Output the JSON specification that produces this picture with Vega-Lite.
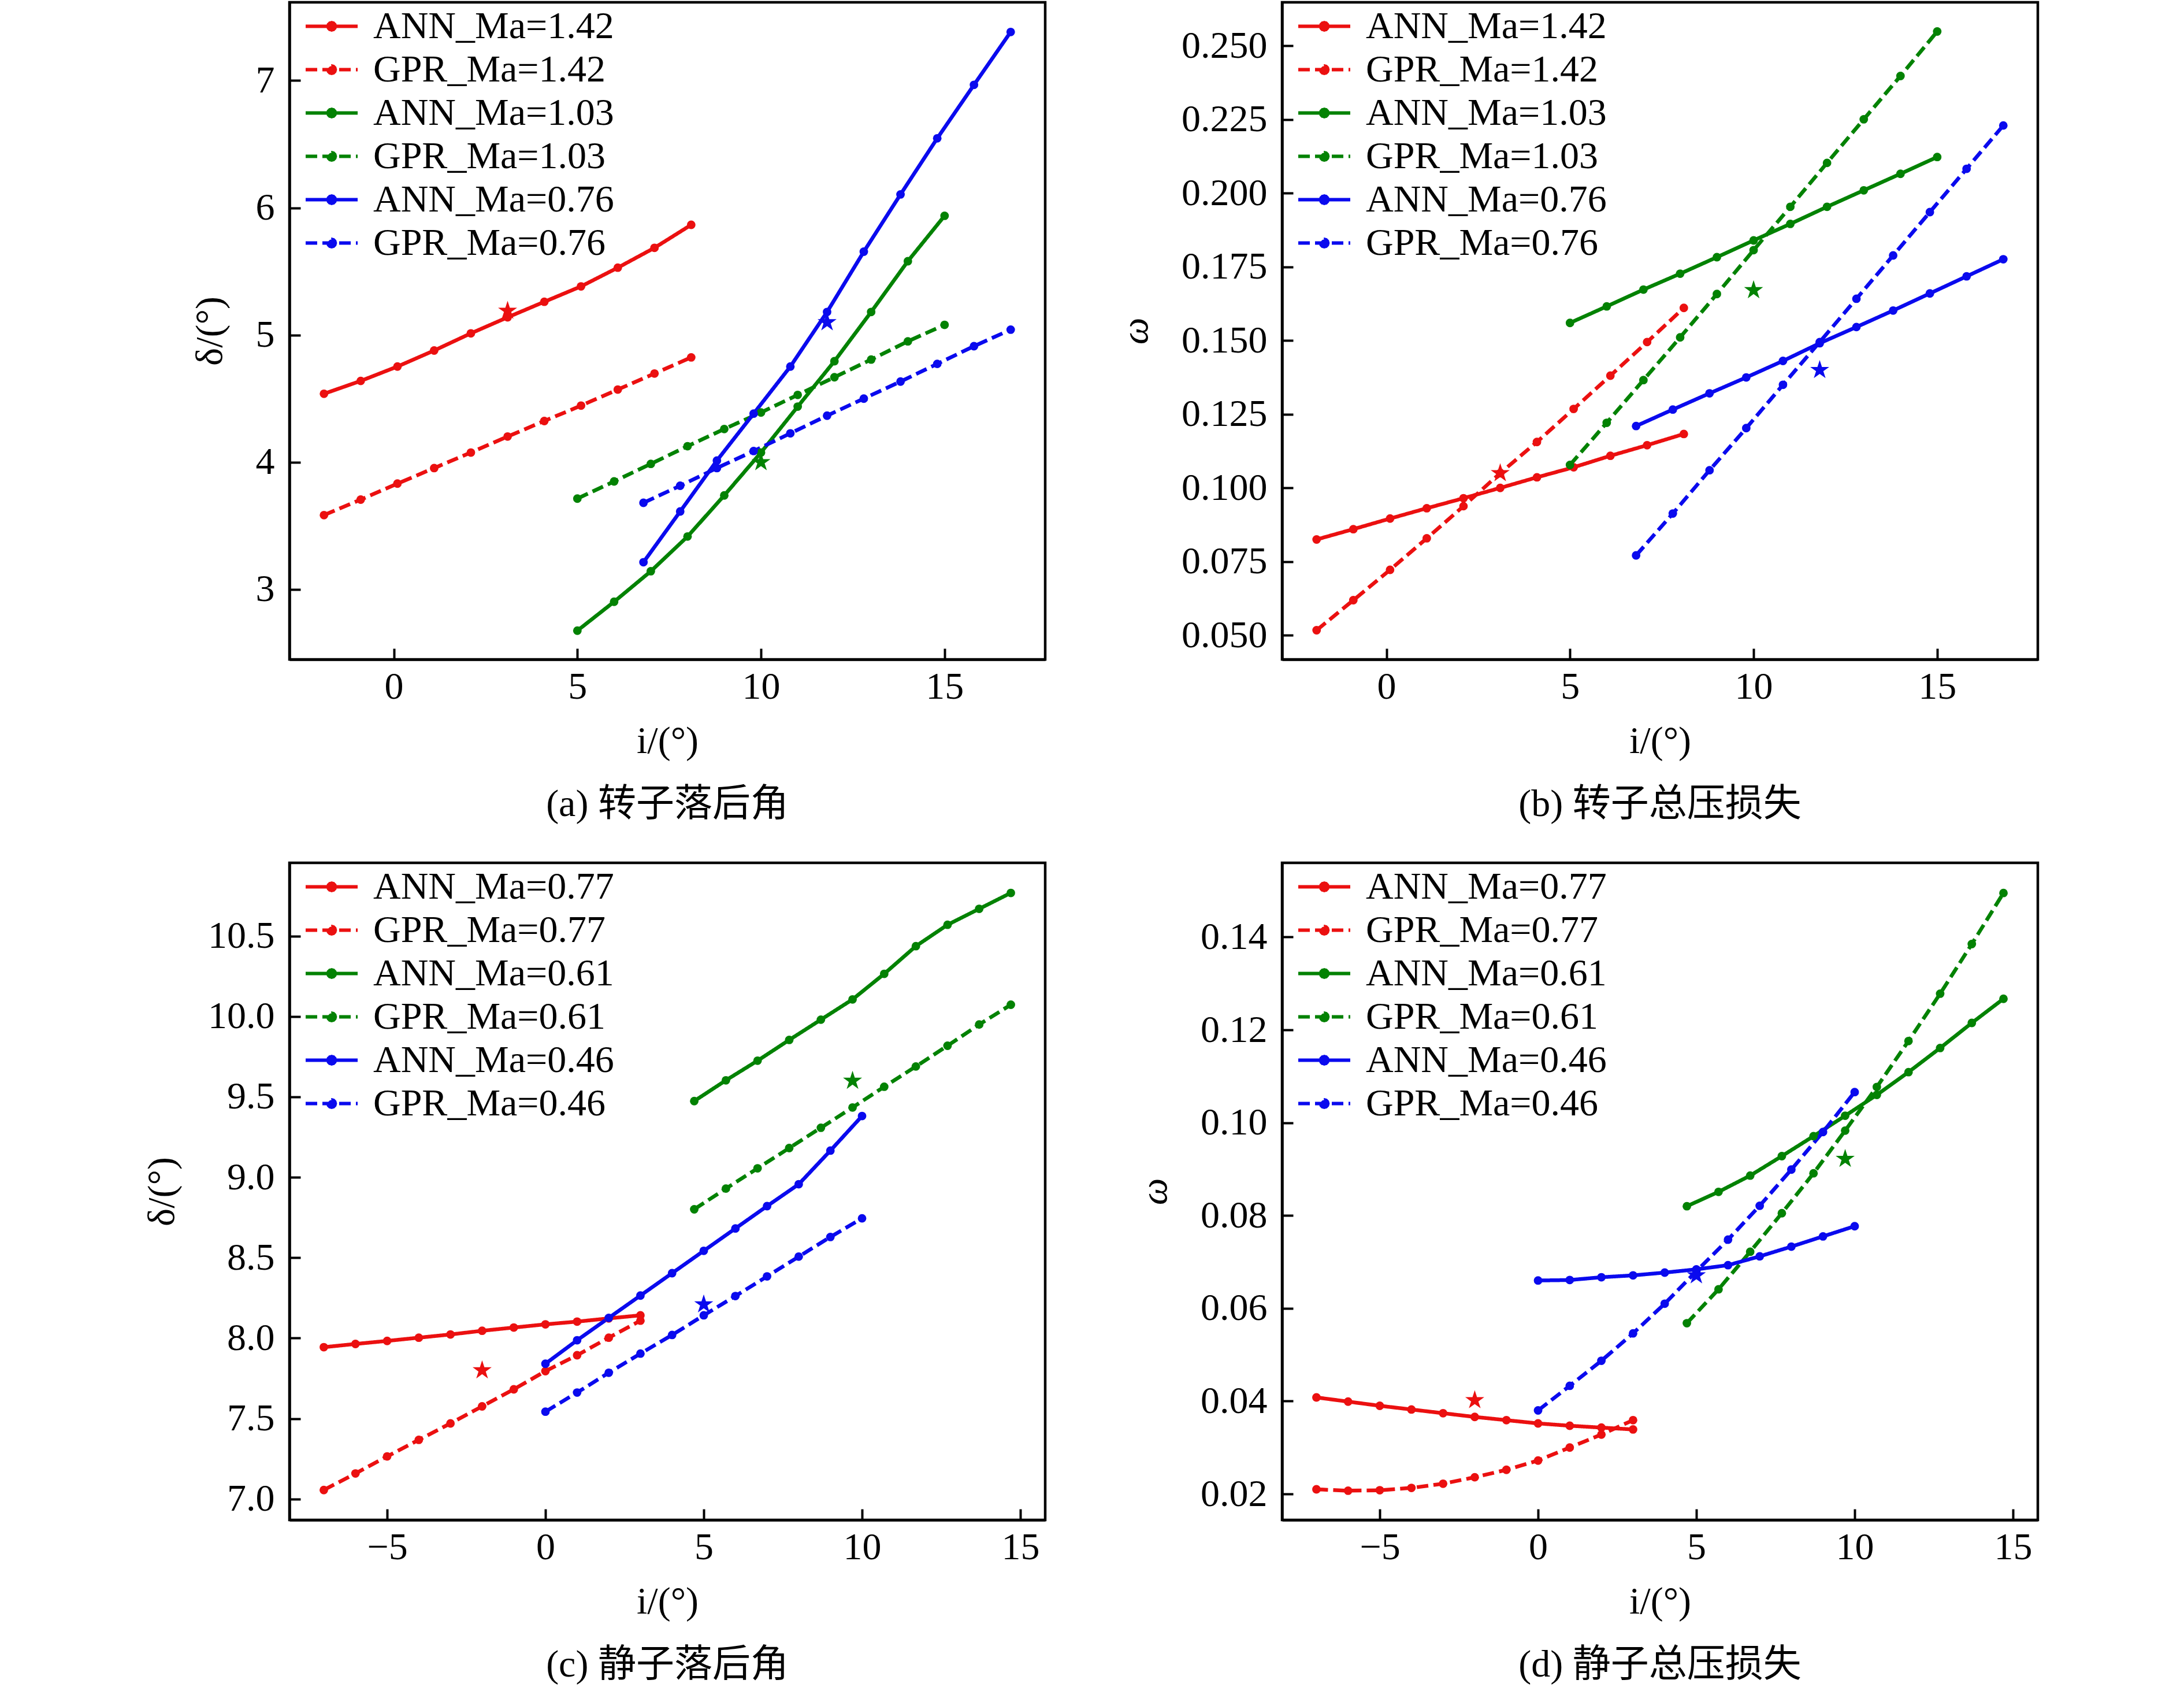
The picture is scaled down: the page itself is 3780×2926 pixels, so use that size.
{
"$schema":"https://vega.github.io/schema/vega-lite/v6.json",
"background":"white",
"padding":{"left":245,"top":1,"right":5,"bottom":5},
"datasets":{
"pa":[
{"s":"ANN_Ma=1.42","i":-1.9,"v":4.538},{"s":"ANN_Ma=1.42","i":-0.9,"v":4.639},{"s":"ANN_Ma=1.42","i":0.1,"v":4.752},{"s":"ANN_Ma=1.42","i":1.1,"v":4.878},{"s":"ANN_Ma=1.42","i":2.1,"v":5.013},{"s":"ANN_Ma=1.42","i":3.1,"v":5.139},{"s":"ANN_Ma=1.42","i":4.1,"v":5.261},{"s":"ANN_Ma=1.42","i":5.1,"v":5.382},{"s":"ANN_Ma=1.42","i":6.1,"v":5.529},{"s":"ANN_Ma=1.42","i":7.1,"v":5.685},{"s":"ANN_Ma=1.42","i":8.1,"v":5.866},
{"s":"GPR_Ma=1.42","i":-1.9,"v":3.584},{"s":"GPR_Ma=1.42","i":-0.9,"v":3.706},{"s":"GPR_Ma=1.42","i":0.1,"v":3.832},{"s":"GPR_Ma=1.42","i":1.1,"v":3.954},{"s":"GPR_Ma=1.42","i":2.1,"v":4.076},{"s":"GPR_Ma=1.42","i":3.1,"v":4.202},{"s":"GPR_Ma=1.42","i":4.1,"v":4.324},{"s":"GPR_Ma=1.42","i":5.1,"v":4.445},{"s":"GPR_Ma=1.42","i":6.1,"v":4.571},{"s":"GPR_Ma=1.42","i":7.1,"v":4.697},{"s":"GPR_Ma=1.42","i":8.1,"v":4.824},
{"s":"ANN_Ma=1.03","i":5,"v":2.676},{"s":"ANN_Ma=1.03","i":6,"v":2.903},{"s":"ANN_Ma=1.03","i":7,"v":3.143},{"s":"ANN_Ma=1.03","i":8,"v":3.416},{"s":"ANN_Ma=1.03","i":9,"v":3.739},{"s":"ANN_Ma=1.03","i":10,"v":4.076},{"s":"ANN_Ma=1.03","i":11,"v":4.437},{"s":"ANN_Ma=1.03","i":12,"v":4.794},{"s":"ANN_Ma=1.03","i":13,"v":5.181},{"s":"ANN_Ma=1.03","i":14,"v":5.58},{"s":"ANN_Ma=1.03","i":15,"v":5.937},
{"s":"GPR_Ma=1.03","i":5,"v":3.714},{"s":"GPR_Ma=1.03","i":6,"v":3.849},{"s":"GPR_Ma=1.03","i":7,"v":3.987},{"s":"GPR_Ma=1.03","i":8,"v":4.126},{"s":"GPR_Ma=1.03","i":9,"v":4.261},{"s":"GPR_Ma=1.03","i":10,"v":4.391},{"s":"GPR_Ma=1.03","i":11,"v":4.529},{"s":"GPR_Ma=1.03","i":12,"v":4.668},{"s":"GPR_Ma=1.03","i":13,"v":4.807},{"s":"GPR_Ma=1.03","i":14,"v":4.95},{"s":"GPR_Ma=1.03","i":15,"v":5.08},
{"s":"ANN_Ma=0.76","i":6.8,"v":3.214},{"s":"ANN_Ma=0.76","i":7.8,"v":3.613},{"s":"ANN_Ma=0.76","i":8.8,"v":4.013},{"s":"ANN_Ma=0.76","i":9.8,"v":4.382},{"s":"ANN_Ma=0.76","i":10.8,"v":4.752},{"s":"ANN_Ma=0.76","i":11.8,"v":5.181},{"s":"ANN_Ma=0.76","i":12.8,"v":5.655},{"s":"ANN_Ma=0.76","i":13.8,"v":6.105},{"s":"ANN_Ma=0.76","i":14.8,"v":6.546},{"s":"ANN_Ma=0.76","i":15.8,"v":6.966},{"s":"ANN_Ma=0.76","i":16.8,"v":7.382},
{"s":"GPR_Ma=0.76","i":6.8,"v":3.681},{"s":"GPR_Ma=0.76","i":7.8,"v":3.815},{"s":"GPR_Ma=0.76","i":8.8,"v":3.954},{"s":"GPR_Ma=0.76","i":9.8,"v":4.088},{"s":"GPR_Ma=0.76","i":10.8,"v":4.227},{"s":"GPR_Ma=0.76","i":11.8,"v":4.366},{"s":"GPR_Ma=0.76","i":12.8,"v":4.5},{"s":"GPR_Ma=0.76","i":13.8,"v":4.634},{"s":"GPR_Ma=0.76","i":14.8,"v":4.773},{"s":"GPR_Ma=0.76","i":15.8,"v":4.912},{"s":"GPR_Ma=0.76","i":16.8,"v":5.042}
],
"pa_exp":[{"Ma":"1.42","i":3.1,"v":5.19},{"Ma":"1.03","i":10.0,"v":4.0},{"Ma":"0.76","i":11.8,"v":5.1}],
"pb":[
{"s":"ANN_Ma=1.42","i":-1.9,"v":0.0825},{"s":"ANN_Ma=1.42","i":-0.9,"v":0.086},{"s":"ANN_Ma=1.42","i":0.1,"v":0.0896},{"s":"ANN_Ma=1.42","i":1.1,"v":0.0931},{"s":"ANN_Ma=1.42","i":2.1,"v":0.0965},{"s":"ANN_Ma=1.42","i":3.1,"v":0.1},{"s":"ANN_Ma=1.42","i":4.1,"v":0.1036},{"s":"ANN_Ma=1.42","i":5.1,"v":0.107},{"s":"ANN_Ma=1.42","i":6.1,"v":0.1109},{"s":"ANN_Ma=1.42","i":7.1,"v":0.1145},{"s":"ANN_Ma=1.42","i":8.1,"v":0.1183},
{"s":"GPR_Ma=1.42","i":-1.9,"v":0.0517},{"s":"GPR_Ma=1.42","i":-0.9,"v":0.0619},{"s":"GPR_Ma=1.42","i":0.1,"v":0.0722},{"s":"GPR_Ma=1.42","i":1.1,"v":0.0829},{"s":"GPR_Ma=1.42","i":2.1,"v":0.0938},{"s":"GPR_Ma=1.42","i":3.1,"v":0.105},{"s":"GPR_Ma=1.42","i":4.1,"v":0.1156},{"s":"GPR_Ma=1.42","i":5.1,"v":0.1268},{"s":"GPR_Ma=1.42","i":6.1,"v":0.1381},{"s":"GPR_Ma=1.42","i":7.1,"v":0.1495},{"s":"GPR_Ma=1.42","i":8.1,"v":0.1611},
{"s":"ANN_Ma=1.03","i":5,"v":0.156},{"s":"ANN_Ma=1.03","i":6,"v":0.1616},{"s":"ANN_Ma=1.03","i":7,"v":0.1673},{"s":"ANN_Ma=1.03","i":8,"v":0.1727},{"s":"ANN_Ma=1.03","i":9,"v":0.1783},{"s":"ANN_Ma=1.03","i":10,"v":0.184},{"s":"ANN_Ma=1.03","i":11,"v":0.1896},{"s":"ANN_Ma=1.03","i":12,"v":0.1954},{"s":"ANN_Ma=1.03","i":13,"v":0.201},{"s":"ANN_Ma=1.03","i":14,"v":0.2066},{"s":"ANN_Ma=1.03","i":15,"v":0.2123},
{"s":"GPR_Ma=1.03","i":5,"v":0.1078},{"s":"GPR_Ma=1.03","i":6,"v":0.1221},{"s":"GPR_Ma=1.03","i":7,"v":0.1366},{"s":"GPR_Ma=1.03","i":8,"v":0.1511},{"s":"GPR_Ma=1.03","i":9,"v":0.1658},{"s":"GPR_Ma=1.03","i":10,"v":0.1807},{"s":"GPR_Ma=1.03","i":11,"v":0.1954},{"s":"GPR_Ma=1.03","i":12,"v":0.2103},{"s":"GPR_Ma=1.03","i":13,"v":0.2251},{"s":"GPR_Ma=1.03","i":14,"v":0.2398},{"s":"GPR_Ma=1.03","i":15,"v":0.2549},
{"s":"ANN_Ma=0.76","i":6.8,"v":0.121},{"s":"ANN_Ma=0.76","i":7.8,"v":0.1266},{"s":"ANN_Ma=0.76","i":8.8,"v":0.1321},{"s":"ANN_Ma=0.76","i":9.8,"v":0.1375},{"s":"ANN_Ma=0.76","i":10.8,"v":0.1431},{"s":"ANN_Ma=0.76","i":11.8,"v":0.1491},{"s":"ANN_Ma=0.76","i":12.8,"v":0.1546},{"s":"ANN_Ma=0.76","i":13.8,"v":0.1602},{"s":"ANN_Ma=0.76","i":14.8,"v":0.166},{"s":"ANN_Ma=0.76","i":15.8,"v":0.1718},{"s":"ANN_Ma=0.76","i":16.8,"v":0.1776},
{"s":"GPR_Ma=0.76","i":6.8,"v":0.0771},{"s":"GPR_Ma=0.76","i":7.8,"v":0.0913},{"s":"GPR_Ma=0.76","i":8.8,"v":0.106},{"s":"GPR_Ma=0.76","i":9.8,"v":0.1203},{"s":"GPR_Ma=0.76","i":10.8,"v":0.135},{"s":"GPR_Ma=0.76","i":11.8,"v":0.1495},{"s":"GPR_Ma=0.76","i":12.8,"v":0.1642},{"s":"GPR_Ma=0.76","i":13.8,"v":0.1789},{"s":"GPR_Ma=0.76","i":14.8,"v":0.1936},{"s":"GPR_Ma=0.76","i":15.8,"v":0.2083},{"s":"GPR_Ma=0.76","i":16.8,"v":0.223}
],
"pb_exp":[{"Ma":"1.42","i":3.1,"v":0.105},{"Ma":"1.03","i":10.0,"v":0.1671},{"Ma":"0.76","i":11.8,"v":0.14}],
"pc":[
{"s":"ANN_Ma=0.77","i":-7,"v":7.944},{"s":"ANN_Ma=0.77","i":-6,"v":7.964},{"s":"ANN_Ma=0.77","i":-5,"v":7.983},{"s":"ANN_Ma=0.77","i":-4,"v":8.003},{"s":"ANN_Ma=0.77","i":-3,"v":8.023},{"s":"ANN_Ma=0.77","i":-2,"v":8.046},{"s":"ANN_Ma=0.77","i":-1,"v":8.066},{"s":"ANN_Ma=0.77","i":0,"v":8.086},{"s":"ANN_Ma=0.77","i":1,"v":8.103},{"s":"ANN_Ma=0.77","i":2,"v":8.123},{"s":"ANN_Ma=0.77","i":3,"v":8.142},
{"s":"GPR_Ma=0.77","i":-7,"v":7.056},{"s":"GPR_Ma=0.77","i":-6,"v":7.159},{"s":"GPR_Ma=0.77","i":-5,"v":7.265},{"s":"GPR_Ma=0.77","i":-4,"v":7.368},{"s":"GPR_Ma=0.77","i":-3,"v":7.47},{"s":"GPR_Ma=0.77","i":-2,"v":7.576},{"s":"GPR_Ma=0.77","i":-1,"v":7.682},{"s":"GPR_Ma=0.77","i":0,"v":7.795},{"s":"GPR_Ma=0.77","i":1,"v":7.894},{"s":"GPR_Ma=0.77","i":2,"v":8.003},{"s":"GPR_Ma=0.77","i":3,"v":8.109},
{"s":"ANN_Ma=0.61","i":4.7,"v":9.474},{"s":"ANN_Ma=0.61","i":5.7,"v":9.603},{"s":"ANN_Ma=0.61","i":6.7,"v":9.725},{"s":"ANN_Ma=0.61","i":7.7,"v":9.854},{"s":"ANN_Ma=0.61","i":8.7,"v":9.98},{"s":"ANN_Ma=0.61","i":9.7,"v":10.106},{"s":"ANN_Ma=0.61","i":10.7,"v":10.265},{"s":"ANN_Ma=0.61","i":11.7,"v":10.437},{"s":"ANN_Ma=0.61","i":12.7,"v":10.57},{"s":"ANN_Ma=0.61","i":13.7,"v":10.669},{"s":"ANN_Ma=0.61","i":14.7,"v":10.768},
{"s":"GPR_Ma=0.61","i":4.7,"v":8.801},{"s":"GPR_Ma=0.61","i":5.7,"v":8.93},{"s":"GPR_Ma=0.61","i":6.7,"v":9.056},{"s":"GPR_Ma=0.61","i":7.7,"v":9.182},{"s":"GPR_Ma=0.61","i":8.7,"v":9.308},{"s":"GPR_Ma=0.61","i":9.7,"v":9.434},{"s":"GPR_Ma=0.61","i":10.7,"v":9.563},{"s":"GPR_Ma=0.61","i":11.7,"v":9.689},{"s":"GPR_Ma=0.61","i":12.7,"v":9.818},{"s":"GPR_Ma=0.61","i":13.7,"v":9.95},{"s":"GPR_Ma=0.61","i":14.7,"v":10.073},
{"s":"ANN_Ma=0.46","i":0,"v":7.841},{"s":"ANN_Ma=0.46","i":1,"v":7.987},{"s":"ANN_Ma=0.46","i":2,"v":8.126},{"s":"ANN_Ma=0.46","i":3,"v":8.265},{"s":"ANN_Ma=0.46","i":4,"v":8.404},{"s":"ANN_Ma=0.46","i":5,"v":8.543},{"s":"ANN_Ma=0.46","i":6,"v":8.682},{"s":"ANN_Ma=0.46","i":7,"v":8.821},{"s":"ANN_Ma=0.46","i":8,"v":8.957},{"s":"ANN_Ma=0.46","i":9,"v":9.166},{"s":"ANN_Ma=0.46","i":10,"v":9.381},
{"s":"GPR_Ma=0.46","i":0,"v":7.543},{"s":"GPR_Ma=0.46","i":1,"v":7.662},{"s":"GPR_Ma=0.46","i":2,"v":7.785},{"s":"GPR_Ma=0.46","i":3,"v":7.904},{"s":"GPR_Ma=0.46","i":4,"v":8.02},{"s":"GPR_Ma=0.46","i":5,"v":8.142},{"s":"GPR_Ma=0.46","i":6,"v":8.262},{"s":"GPR_Ma=0.46","i":7,"v":8.384},{"s":"GPR_Ma=0.46","i":8,"v":8.507},{"s":"GPR_Ma=0.46","i":9,"v":8.629},{"s":"GPR_Ma=0.46","i":10,"v":8.745}
],
"pc_exp":[{"Ma":"0.77","i":-2,"v":7.8},{"Ma":"0.61","i":9.7,"v":9.6},{"Ma":"0.46","i":5.0,"v":8.21}],
"pd":[
{"s":"ANN_Ma=0.77","i":-7,"v":0.0408},{"s":"ANN_Ma=0.77","i":-6,"v":0.0399},{"s":"ANN_Ma=0.77","i":-5,"v":0.039},{"s":"ANN_Ma=0.77","i":-4,"v":0.0382},{"s":"ANN_Ma=0.77","i":-3,"v":0.0374},{"s":"ANN_Ma=0.77","i":-2,"v":0.0366},{"s":"ANN_Ma=0.77","i":-1,"v":0.0359},{"s":"ANN_Ma=0.77","i":0,"v":0.0352},{"s":"ANN_Ma=0.77","i":1,"v":0.0347},{"s":"ANN_Ma=0.77","i":2,"v":0.0343},{"s":"ANN_Ma=0.77","i":3,"v":0.0339},
{"s":"GPR_Ma=0.77","i":-7,"v":0.021},{"s":"GPR_Ma=0.77","i":-6,"v":0.0207},{"s":"GPR_Ma=0.77","i":-5,"v":0.0208},{"s":"GPR_Ma=0.77","i":-4,"v":0.0213},{"s":"GPR_Ma=0.77","i":-3,"v":0.0222},{"s":"GPR_Ma=0.77","i":-2,"v":0.0236},{"s":"GPR_Ma=0.77","i":-1,"v":0.0252},{"s":"GPR_Ma=0.77","i":0,"v":0.0272},{"s":"GPR_Ma=0.77","i":1,"v":0.03},{"s":"GPR_Ma=0.77","i":2,"v":0.0328},{"s":"GPR_Ma=0.77","i":3,"v":0.0359},
{"s":"ANN_Ma=0.61","i":4.7,"v":0.082},{"s":"ANN_Ma=0.61","i":5.7,"v":0.0851},{"s":"ANN_Ma=0.61","i":6.7,"v":0.0886},{"s":"ANN_Ma=0.61","i":7.7,"v":0.0928},{"s":"ANN_Ma=0.61","i":8.7,"v":0.0971},{"s":"ANN_Ma=0.61","i":9.7,"v":0.1015},{"s":"ANN_Ma=0.61","i":10.7,"v":0.106},{"s":"ANN_Ma=0.61","i":11.7,"v":0.1109},{"s":"ANN_Ma=0.61","i":12.7,"v":0.1161},{"s":"ANN_Ma=0.61","i":13.7,"v":0.1215},{"s":"ANN_Ma=0.61","i":14.7,"v":0.1267},
{"s":"GPR_Ma=0.61","i":4.7,"v":0.0568},{"s":"GPR_Ma=0.61","i":5.7,"v":0.0641},{"s":"GPR_Ma=0.61","i":6.7,"v":0.0722},{"s":"GPR_Ma=0.61","i":7.7,"v":0.0805},{"s":"GPR_Ma=0.61","i":8.7,"v":0.0891},{"s":"GPR_Ma=0.61","i":9.7,"v":0.0983},{"s":"GPR_Ma=0.61","i":10.7,"v":0.1077},{"s":"GPR_Ma=0.61","i":11.7,"v":0.1176},{"s":"GPR_Ma=0.61","i":12.7,"v":0.1278},{"s":"GPR_Ma=0.61","i":13.7,"v":0.1385},{"s":"GPR_Ma=0.61","i":14.7,"v":0.1495},
{"s":"ANN_Ma=0.46","i":0,"v":0.066},{"s":"ANN_Ma=0.46","i":1,"v":0.0661},{"s":"ANN_Ma=0.46","i":2,"v":0.0667},{"s":"ANN_Ma=0.46","i":3,"v":0.0671},{"s":"ANN_Ma=0.46","i":4,"v":0.0677},{"s":"ANN_Ma=0.46","i":5,"v":0.0684},{"s":"ANN_Ma=0.46","i":6,"v":0.0693},{"s":"ANN_Ma=0.46","i":7,"v":0.0712},{"s":"ANN_Ma=0.46","i":8,"v":0.0733},{"s":"ANN_Ma=0.46","i":9,"v":0.0755},{"s":"ANN_Ma=0.46","i":10,"v":0.0777},
{"s":"GPR_Ma=0.46","i":0,"v":0.038},{"s":"GPR_Ma=0.46","i":1,"v":0.0433},{"s":"GPR_Ma=0.46","i":2,"v":0.0487},{"s":"GPR_Ma=0.46","i":3,"v":0.0546},{"s":"GPR_Ma=0.46","i":4,"v":0.061},{"s":"GPR_Ma=0.46","i":5,"v":0.068},{"s":"GPR_Ma=0.46","i":6,"v":0.0748},{"s":"GPR_Ma=0.46","i":7,"v":0.0821},{"s":"GPR_Ma=0.46","i":8,"v":0.0899},{"s":"GPR_Ma=0.46","i":9,"v":0.098},{"s":"GPR_Ma=0.46","i":10,"v":0.1066}
],
"pd_exp":[{"Ma":"0.77","i":-2,"v":0.0402},{"Ma":"0.61","i":9.7,"v":0.0922},{"Ma":"0.46","i":5.0,"v":0.0671}]
},
"columns":2,
"spacing":{"row":352,"column":410},
"bounds":"flush",
"resolve":{"scale":{"x":"independent","y":"independent","color":"independent","strokeDash":"independent","fill":"independent"},"legend":{"color":"independent","strokeDash":"independent"}},
"concat":[
{"width":1308,"height":1137,"title":{"text":"(a) 转子落后角","orient":"bottom"},
 "layer":[
 {"data":{"name":"pa"},"mark":{"type":"line","strokeWidth":6.5,"point":{"filled":true,"size":220}},
  "encoding":{
   "x":{"field":"i","type":"quantitative","scale":{"domain":[-2.84,17.74],"nice":false,"zero":false},"axis":{"title":"i/(°)","values":[0,5,10,15],"format":"d"}},
   "y":{"field":"v","type":"quantitative","scale":{"domain":[2.45,7.615],"nice":false,"zero":false},"axis":{"title":"δ/(°)","values":[3,4,5,6,7],"format":"d"}},
   "color":{"field":"s","type":"nominal","scale":{"domain":["ANN_Ma=1.42","GPR_Ma=1.42","ANN_Ma=1.03","GPR_Ma=1.03","ANN_Ma=0.76","GPR_Ma=0.76"],"range":["#eb1010","#eb1010","#038203","#038203","#0a0aee","#0a0aee"]},"legend":{"title":null,"encode":{"symbols":{"update":{"fill":{"signal":"datum.index < 2 ? '#eb1010' : datum.index < 4 ? '#038203' : '#0a0aee'"}}}}}},
   "strokeDash":{"field":"s","type":"nominal","scale":{"domain":["ANN_Ma=1.42","GPR_Ma=1.42","ANN_Ma=1.03","GPR_Ma=1.03","ANN_Ma=0.76","GPR_Ma=0.76"],"range":[[1,0],[20,9],[1,0],[20,9],[1,0],[20,9]]},"legend":{"title":null,"encode":{"symbols":{"update":{"fill":{"signal":"datum.index < 2 ? '#eb1010' : datum.index < 4 ? '#038203' : '#0a0aee'"}}}}}}
  }},
 {"data":{"name":"pa_exp"},"mark":{"type":"point","shape":"M0,-1L0.225,-0.309L0.951,-0.309L0.363,0.118L0.588,0.809L0,0.382L-0.588,0.809L-0.363,0.118L-0.951,-0.309L-0.225,-0.309Z","filled":true,"size":1200,"opacity":1},
  "encoding":{"x":{"field":"i","type":"quantitative"},"y":{"field":"v","type":"quantitative"},
   "fill":{"field":"Ma","type":"nominal","scale":{"domain":["1.42","1.03","0.76"],"range":["#eb1010","#038203","#0a0aee"]},"legend":null}}}
 ]},
{"width":1308,"height":1137,"title":{"text":"(b) 转子总压损失","orient":"bottom"},
 "layer":[
 {"data":{"name":"pb"},"mark":{"type":"line","strokeWidth":6.5,"point":{"filled":true,"size":220}},
  "encoding":{
   "x":{"field":"i","type":"quantitative","scale":{"domain":[-2.84,17.74],"nice":false,"zero":false},"axis":{"title":"i/(°)","values":[0,5,10,15],"format":"d"}},
   "y":{"field":"v","type":"quantitative","scale":{"domain":[0.0418,0.2648],"nice":false,"zero":false},"axis":{"title":"ω","titleFontStyle":"italic","format":".3f","values":[0.05,0.075,0.1,0.125,0.15,0.175,0.2,0.225,0.25]}},
   "color":{"field":"s","type":"nominal","scale":{"domain":["ANN_Ma=1.42","GPR_Ma=1.42","ANN_Ma=1.03","GPR_Ma=1.03","ANN_Ma=0.76","GPR_Ma=0.76"],"range":["#eb1010","#eb1010","#038203","#038203","#0a0aee","#0a0aee"]},"legend":{"title":null,"encode":{"symbols":{"update":{"fill":{"signal":"datum.index < 2 ? '#eb1010' : datum.index < 4 ? '#038203' : '#0a0aee'"}}}}}},
   "strokeDash":{"field":"s","type":"nominal","scale":{"domain":["ANN_Ma=1.42","GPR_Ma=1.42","ANN_Ma=1.03","GPR_Ma=1.03","ANN_Ma=0.76","GPR_Ma=0.76"],"range":[[1,0],[20,9],[1,0],[20,9],[1,0],[20,9]]},"legend":{"title":null,"encode":{"symbols":{"update":{"fill":{"signal":"datum.index < 2 ? '#eb1010' : datum.index < 4 ? '#038203' : '#0a0aee'"}}}}}}
  }},
 {"data":{"name":"pb_exp"},"mark":{"type":"point","shape":"M0,-1L0.225,-0.309L0.951,-0.309L0.363,0.118L0.588,0.809L0,0.382L-0.588,0.809L-0.363,0.118L-0.951,-0.309L-0.225,-0.309Z","filled":true,"size":1200,"opacity":1},
  "encoding":{"x":{"field":"i","type":"quantitative"},"y":{"field":"v","type":"quantitative"},
   "fill":{"field":"Ma","type":"nominal","scale":{"domain":["1.42","1.03","0.76"],"range":["#eb1010","#038203","#0a0aee"]},"legend":null}}}
 ]},
{"width":1308,"height":1137,"title":{"text":"(c) 静子落后角","orient":"bottom"},
 "layer":[
 {"data":{"name":"pc"},"mark":{"type":"line","strokeWidth":6.5,"point":{"filled":true,"size":220}},
  "encoding":{
   "x":{"field":"i","type":"quantitative","scale":{"domain":[-8.085,15.785],"nice":false,"zero":false},"axis":{"title":"i/(°)","values":[-5,0,5,10,15],"format":"d"}},
   "y":{"field":"v","type":"quantitative","scale":{"domain":[6.87,10.955],"nice":false,"zero":false},"axis":{"title":"δ/(°)","format":".1f","values":[7,7.5,8,8.5,9,9.5,10,10.5]}},
   "color":{"field":"s","type":"nominal","scale":{"domain":["ANN_Ma=0.77","GPR_Ma=0.77","ANN_Ma=0.61","GPR_Ma=0.61","ANN_Ma=0.46","GPR_Ma=0.46"],"range":["#eb1010","#eb1010","#038203","#038203","#0a0aee","#0a0aee"]},"legend":{"title":null,"encode":{"symbols":{"update":{"fill":{"signal":"datum.index < 2 ? '#eb1010' : datum.index < 4 ? '#038203' : '#0a0aee'"}}}}}},
   "strokeDash":{"field":"s","type":"nominal","scale":{"domain":["ANN_Ma=0.77","GPR_Ma=0.77","ANN_Ma=0.61","GPR_Ma=0.61","ANN_Ma=0.46","GPR_Ma=0.46"],"range":[[1,0],[20,9],[1,0],[20,9],[1,0],[20,9]]},"legend":{"title":null,"encode":{"symbols":{"update":{"fill":{"signal":"datum.index < 2 ? '#eb1010' : datum.index < 4 ? '#038203' : '#0a0aee'"}}}}}}
  }},
 {"data":{"name":"pc_exp"},"mark":{"type":"point","shape":"M0,-1L0.225,-0.309L0.951,-0.309L0.363,0.118L0.588,0.809L0,0.382L-0.588,0.809L-0.363,0.118L-0.951,-0.309L-0.225,-0.309Z","filled":true,"size":1200,"opacity":1},
  "encoding":{"x":{"field":"i","type":"quantitative"},"y":{"field":"v","type":"quantitative"},
   "fill":{"field":"Ma","type":"nominal","scale":{"domain":["0.77","0.61","0.46"],"range":["#eb1010","#038203","#0a0aee"]},"legend":null}}}
 ]},
{"width":1308,"height":1137,"title":{"text":"(d) 静子总压损失","orient":"bottom"},
 "layer":[
 {"data":{"name":"pd"},"mark":{"type":"line","strokeWidth":6.5,"point":{"filled":true,"size":220}},
  "encoding":{
   "x":{"field":"i","type":"quantitative","scale":{"domain":[-8.085,15.785],"nice":false,"zero":false},"axis":{"title":"i/(°)","values":[-5,0,5,10,15],"format":"d"}},
   "y":{"field":"v","type":"quantitative","scale":{"domain":[0.0144,0.156],"nice":false,"zero":false},"axis":{"title":"ω","titleFontStyle":"italic","format":".2f","values":[0.02,0.04,0.06,0.08,0.1,0.12,0.14]}},
   "color":{"field":"s","type":"nominal","scale":{"domain":["ANN_Ma=0.77","GPR_Ma=0.77","ANN_Ma=0.61","GPR_Ma=0.61","ANN_Ma=0.46","GPR_Ma=0.46"],"range":["#eb1010","#eb1010","#038203","#038203","#0a0aee","#0a0aee"]},"legend":{"title":null,"encode":{"symbols":{"update":{"fill":{"signal":"datum.index < 2 ? '#eb1010' : datum.index < 4 ? '#038203' : '#0a0aee'"}}}}}},
   "strokeDash":{"field":"s","type":"nominal","scale":{"domain":["ANN_Ma=0.77","GPR_Ma=0.77","ANN_Ma=0.61","GPR_Ma=0.61","ANN_Ma=0.46","GPR_Ma=0.46"],"range":[[1,0],[20,9],[1,0],[20,9],[1,0],[20,9]]},"legend":{"title":null,"encode":{"symbols":{"update":{"fill":{"signal":"datum.index < 2 ? '#eb1010' : datum.index < 4 ? '#038203' : '#0a0aee'"}}}}}}
  }},
 {"data":{"name":"pd_exp"},"mark":{"type":"point","shape":"M0,-1L0.225,-0.309L0.951,-0.309L0.363,0.118L0.588,0.809L0,0.382L-0.588,0.809L-0.363,0.118L-0.951,-0.309L-0.225,-0.309Z","filled":true,"size":1200,"opacity":1},
  "encoding":{"x":{"field":"i","type":"quantitative"},"y":{"field":"v","type":"quantitative"},
   "fill":{"field":"Ma","type":"nominal","scale":{"domain":["0.77","0.61","0.46"],"range":["#eb1010","#038203","#0a0aee"]},"legend":null}}}
 ]}
],
"config":{
 "font":"Liberation Serif",
 "view":{"stroke":"black","strokeWidth":4.5},
 "axis":{"domainColor":"black","domainWidth":4.5,"tickColor":"black","tickWidth":4,"tickSize":-19,"labelFont":"Liberation Serif","labelFontSize":66,"labelColor":"black","titleFont":"Liberation Serif","titleFontSize":66,"titleFontWeight":"normal","titleColor":"black","grid":false,"labelFlush":false,"labelOverlap":false},
 "axisX":{"labelPadding":34,"titlePadding":29},
 "axisY":{"labelPadding":45,"titlePadding":45},
 "legend":{"orient":"none","legendX":25,"legendY":4,"padding":0,"labelFont":"Liberation Serif","labelFontSize":66,"labelColor":"black","labelOffset":24,"symbolType":"M-1,0H1M0.14,0L0.121,0.07L0.07,0.121L0,0.14L-0.07,0.121L-0.121,0.07L-0.14,0L-0.121,-0.07L-0.07,-0.121L0,-0.14L0.07,-0.121L0.121,-0.07Z","symbolSize":8100,"symbolStrokeWidth":6,"symbolOpacity":1,"clipHeight":75,"rowPadding":0,"labelLimit":1000},
 "title":{"font":"Liberation Serif, Noto Sans CJK SC","fontSize":66,"fontWeight":"normal","color":"black","offset":45,"anchor":"middle","frame":"group"}
}
}
